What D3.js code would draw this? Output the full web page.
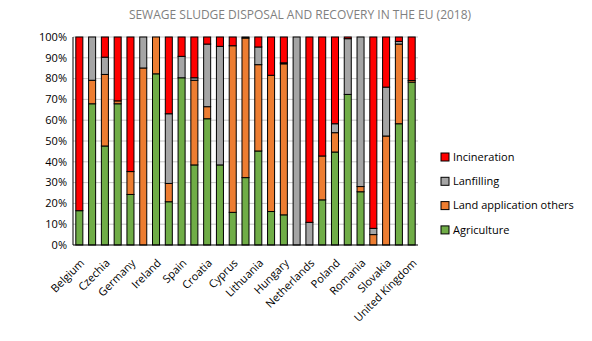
<!DOCTYPE html>
<html>
<head>
<meta charset="utf-8">
<script src="https://cdn.jsdelivr.net/npm/d3@7"></script>
<style>
  body { margin: 0; background: #fff; }
  text { font-family: "Open Sans", sans-serif; }
</style>
</head>
<body>
<svg id="chart" width="592" height="341"></svg>
<script>
// Data (shares in %)
const countries = ["Belgium","Bulgaria","Czechia","Denmark","Germany","Estonia","Ireland","Greece","Spain","France",
  "Croatia","Italy","Cyprus","Latvia","Lithuania","Luxembourg","Hungary","Malta","Netherlands","Austria",
  "Poland","Portugal","Romania","Slovenia","Slovakia","Finland","United Kingdom"];
const agriculture  = [16.5,67.9,47.6,67.9,24.3,0,82.3,20.8,80.4,38.5,60.7,38.5,15.7,32.4,45.2,16.1,14.5,0,0,21.7,44.7,72.4,25.6,0,0,58.3,78.3];
const landApp      = [0,11.3,34.4,1.4,11.0,85.1,17.7,8.8,0,40.7,5.8,0,80.1,67.1,41.5,65.5,72.6,0,0,21.1,9.3,0,2.5,5.0,52.4,38.3,0.8];
const landfilling  = [0,20.8,8.3,0,0,14.9,0,33.5,10.3,1.2,30.1,57.0,0,0.5,8.5,0,0.5,100,10.9,0,4.3,26.8,71.9,3.0,23.5,1.3,0];
const incineration = [83.5,0,9.7,30.7,64.7,0,0,36.9,9.3,19.6,3.4,4.5,4.2,0,4.8,18.4,12.4,0,89.1,57.2,41.7,0.8,0,92.0,24.1,2.1,20.9];
const yTicks = [0,10,20,30,40,50,60,70,80,90,100];

const series = ["Agriculture","Land application others","Lanfilling","Incineration"];
const colors = ["#70AD47","#ED7D31","#A5A5A5","#FF0000"];

const svg = d3.select("#chart");
const margin = {left: 73, right: 174, top: 37, bottom: 96};
const width = 592 - margin.left - margin.right,
  height = 341 - margin.top - margin.bottom;

const table = countries.map((c, i) => ({
  country: c,
  "Agriculture": agriculture[i],
  "Land application others": landApp[i],
  "Lanfilling": landfilling[i],
  "Incineration": incineration[i]
}));

const stack = d3.stack().keys(series)(table);

const x = d3.scaleBand().domain(countries).range([0, width]).paddingInner(0.45).paddingOuter(0.22);
const y = d3.scaleLinear().domain([0, 100]).range([height, 0]);

// Title
svg.append("text")
  .attr("x", 300).attr("y", 19)
  .attr("text-anchor", "middle")
  .attr("fill", "#7f7f7f")
  .style("font-size", "12px")
  .text("SEWAGE SLUDGE DISPOSAL AND RECOVERY IN THE EU (2018)");

const g = svg.append("g").attr("transform", `translate(${margin.left},${margin.top})`);

// gridlines
g.append("g")
  .selectAll("line")
  .data(yTicks.slice(1))
  .enter().append("line")
    .attr("x1", 0).attr("x2", width)
    .attr("y1", d => y(d)).attr("y2", d => y(d))
    .attr("stroke", "#c6c6c6")
    .attr("stroke-width", 1);

// y labels
g.append("g")
  .selectAll("text")
  .data(yTicks)
  .enter().append("text")
    .attr("x", -6).attr("y", d => y(d))
    .attr("dy", "0.35em")
    .attr("text-anchor", "end")
    .style("font-size", "11px")
    .attr("fill", "#000")
    .text(d => d + "%");

// bars
g.append("g")
  .selectAll("g")
  .data(stack)
  .enter().append("g")
    .attr("fill", (d, i) => colors[i])
  .selectAll("rect")
  .data(d => d.filter(p => p[1] - p[0] > 0))
  .enter().append("rect")
    .attr("x", d => x(d.data.country))
    .attr("y", d => y(d[1]))
    .attr("width", x.bandwidth())
    .attr("height", d => y(d[0]) - y(d[1]))
    .attr("stroke", "#000")
    .attr("stroke-width", 1);

// axes lines
g.append("line").attr("x1", 0).attr("x2", 0).attr("y1", 0).attr("y2", height)
  .attr("stroke", "#000");
g.append("line").attr("x1", 0).attr("x2", width).attr("y1", height).attr("y2", height)
  .attr("stroke", "#000");

// x labels (every other category)
g.append("g")
  .selectAll("text")
  .data(countries.filter((c, i) => i % 2 === 0))
  .enter().append("text")
    .attr("transform", d => `translate(${x(d) + x.bandwidth() / 2 + 3},${height + 16}) rotate(-45)`)
    .attr("text-anchor", "end")
    .attr("dy", "0.35em")
    .style("font-size", "11px")
    .attr("fill", "#000")
    .text(d => d);

// legend
const legendItems = ["Incineration","Lanfilling","Land application others","Agriculture"];
const legendColors = ["#FF0000","#A5A5A5","#ED7D31","#70AD47"];
const legend = svg.append("g").attr("transform", "translate(441,153)");
legendItems.forEach((name, i) => {
  const row = legend.append("g").attr("transform", `translate(0,${i * 24.3})`);
  row.append("rect").attr("width", 8).attr("height", 8)
    .attr("fill", legendColors[i]).attr("stroke", "#000").attr("stroke-width", 1);
  row.append("text").attr("x", 12).attr("y", 4).attr("dy", "0.35em")
    .style("font-size", "11px").attr("fill", "#000").text(name);
});
</script>
</body>
</html>
